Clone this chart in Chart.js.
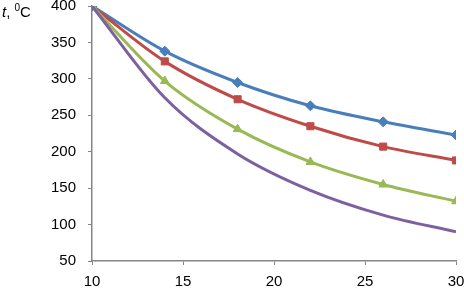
<!DOCTYPE html>
<html>
<head>
<meta charset="utf-8">
<script src="https://cdn.jsdelivr.net/npm/chart.js@4"></script>
<style>
  html, body { margin: 0; padding: 0; background: #fff; }
  #wrap { width: 464px; height: 289px; position: relative; }
</style>
</head>
<body>
<div id="wrap"><canvas id="chart"></canvas></div>
<script>
// values
const xValues = [10, 14, 18, 22, 26, 30];
const blueSeries = [400, 338, 295, 263, 241, 223];
const redSeries = [400, 324, 272, 235, 207, 188];
const greenSeries = [400, 297, 231, 186, 155, 132];
const purpleSeries = [400, 274, 197, 147, 113, 90];

const FONT = "'Liberation Sans', Arial, sans-serif";
const axisColor = "#868686";

function points(ys) {
  return xValues.map((x, i) => ({ x: x, y: ys[i] }));
}

// the "t, 0C" label in the top left corner
const unitLabel = {
  id: "unitLabel",
  afterDraw(chart) {
    const ctx = chart.ctx;
    ctx.save();
    ctx.fillStyle = "#000";
    ctx.textBaseline = "alphabetic";
    let x = 2;
    const y = 17;
    ctx.font = "italic 15px " + FONT;
    ctx.fillText("t", x, y);
    x += ctx.measureText("t").width;
    ctx.font = "15px " + FONT;
    ctx.fillText(", ", x, y);
    x += ctx.measureText(", ").width;
    ctx.font = "10px " + FONT;
    ctx.fillText("0", x, y - 6);
    x += ctx.measureText("0").width;
    ctx.font = "15px " + FONT;
    ctx.fillText("C", x, y);
    ctx.restore();
  },
};

function series(label, data, color, style, order) {
  return {
    label: label,
    data: points(data),
    borderColor: color,
    backgroundColor: color,
    borderWidth: 3,
    pointStyle: style,
    pointRadius: style ? 5 : 0,
    pointBorderWidth: 1,
    cubicInterpolationMode: "monotone",
    order: order,
  };
}

new Chart(document.getElementById("chart"), {
  type: "line",
  data: {
    datasets: [
      series("1", blueSeries, "#4a7ebb", "rectRot", 4),
      series("2", redSeries, "#be4b48", "rect", 3),
      series("3", greenSeries, "#98b954", "triangle", 2),
      series("4", purpleSeries, "#7d60a0", false, 1),
    ],
  },
  options: {
    responsive: true,
    maintainAspectRatio: false,
    animation: false,
    layout: { padding: { top: 5.5, right: 8, left: 0, bottom: 0 } },
    plugins: {
      legend: { display: false },
      tooltip: { enabled: false },
    },
    scales: {
      x: {
        type: "linear",
        min: 10,
        max: 30,
        afterFit: (s) => { s.height = 28; s.paddingLeft = 0; s.paddingRight = 0; },
        border: { color: axisColor, width: 1.5 },
        grid: { drawOnChartArea: false, drawTicks: true, tickLength: 4, color: axisColor },
        ticks: { stepSize: 5, color: "#000", font: { family: FONT, size: 15 }, padding: 8, maxRotation: 0 },
      },
      y: {
        min: 50,
        max: 400,
        afterFit: (s) => { s.width = 92; s.paddingTop = 0; s.paddingBottom = 0; },
        border: { color: axisColor, width: 1.5 },
        grid: { drawOnChartArea: false, drawTicks: true, tickLength: 4, color: axisColor },
        ticks: { stepSize: 50, color: "#000", font: { family: FONT, size: 15 }, padding: 12 },
      },
    },
  },
  plugins: [unitLabel],
});
</script>
</body>
</html>
